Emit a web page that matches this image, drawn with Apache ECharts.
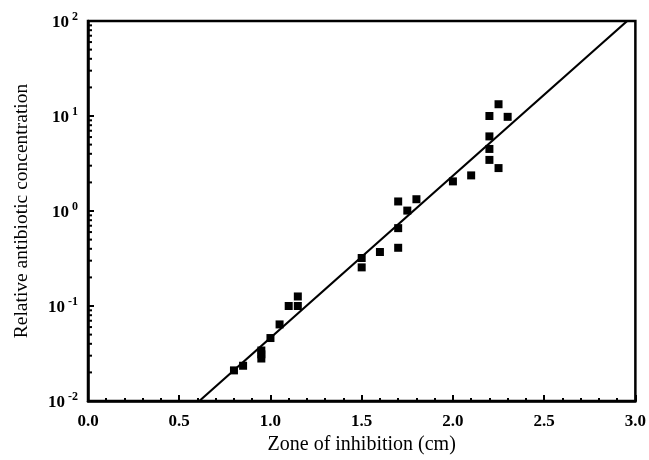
<!DOCTYPE html>
<html>
<head>
<meta charset="utf-8">
<script src="https://cdn.jsdelivr.net/npm/echarts@6/dist/echarts.min.js"></script>
<style>
  html, body { margin: 0; padding: 0; background: #fff; }
  #chart { width: 649px; height: 460px; }
</style>
</head>
<body>
<div id="chart"></div>
<script>
'use strict'
// measured points: zone of inhibition (cm) vs relative concentration
var zoneCm = [0.80, 0.85, 0.95, 0.95, 0.95, 1.00, 1.05, 1.10, 1.15, 1.15,
              1.50, 1.50, 1.60, 1.70, 1.70, 1.70, 1.75, 1.80, 2.00, 2.10,
              2.20, 2.20, 2.20, 2.20, 2.25, 2.25, 2.30];
var concValues = [0.021, 0.0235, 0.028, 0.031, 0.034, 0.046, 0.064, 0.10, 0.10, 0.126,
                  0.32, 0.255, 0.37, 0.41, 0.66, 1.26, 1.01, 1.33, 2.05, 2.37,
                  10.0, 6.1, 4.5, 3.45, 13.3, 2.83, 9.8];
// fitted line endpoints
var fitX = [0.61, 2.955];
var fitY = [0.01, 100];
// minor tick positions on the log axis (2..9 in each decade)
var decades = [0.01, 0.1, 1, 10];
var minorMult = [2, 3, 4, 5, 6, 7, 8, 9];

var serif = '"Liberation Serif", "DejaVu Serif", serif';

function pairs(xs, ys) {
    var out = [];
    for (var i = 0; i < xs.length; i++) {
        out.push([xs[i], ys[i]]);
    }
    return out;
}

var minorTicks = [];
decades.forEach(function (d) {
    minorMult.forEach(function (m) {
        minorTicks.push([0, d * m]);
    });
});

var chart = echarts.init(document.getElementById('chart'));
var option = {
    backgroundColor: '#fff',
    animation: false,
    grid: {
        left: 88, right: 12, top: 21, bottom: 56,
        show: true, borderColor: '#000', borderWidth: 2.5
    },
    xAxis: {
        type: 'value',
        min: 0, max: 3, interval: 0.5,
        name: 'Zone of inhibition (cm)',
        nameLocation: 'middle',
        nameGap: 34,
        nameTextStyle: { fontFamily: serif, fontSize: 20, color: '#000' },
        axisLine: { lineStyle: { color: '#000', width: 2.5 } },
        axisTick: { inside: true, length: 6, lineStyle: { color: '#000', width: 2 } },
        minorTick: { show: true, splitNumber: 5, length: 3, lineStyle: { color: '#000', width: 2 } },
        splitLine: { show: false },
        axisLabel: {
            fontFamily: serif, fontSize: 17, fontWeight: 'bold', color: '#000', margin: 12,
            formatter: function (v) { return v.toFixed(1); }
        }
    },
    yAxis: {
        type: 'log',
        logBase: 10,
        min: 0.01, max: 100,
        name: 'Relative antibiotic concentration',
        nameLocation: 'middle',
        nameGap: 56,
        nameTextStyle: { fontFamily: serif, fontSize: 19.5, color: '#000' },
        axisLine: { lineStyle: { color: '#000', width: 2.5 } },
        axisTick: { inside: true, length: 6, lineStyle: { color: '#000', width: 2 } },
        splitLine: { show: false },
        axisLabel: {
            color: '#000', margin: 10,
            formatter: function (v) {
                var e = Math.round(Math.log10(v));
                return '{b|10}{s|' + (e < 0 ? '-' + (-e) : e) + '}';
            },
            rich: {
                b: { fontFamily: serif, fontSize: 17, fontWeight: 'bold', color: '#000', padding: [4, 0, 0, 0] },
                s: { fontFamily: serif, fontSize: 12, fontWeight: 'bold', color: '#000',
                     verticalAlign: 'bottom', padding: [0, 0, 9, 3] }
            }
        }
    },
    series: [
        {
            type: 'custom',
            silent: true,
            data: minorTicks,
            renderItem: function (params, api) {
                var p = api.coord([api.value(0), api.value(1)]);
                return {
                    type: 'line',
                    shape: { x1: p[0], y1: p[1], x2: p[0] + 4, y2: p[1] },
                    style: { stroke: '#000', lineWidth: 2 }
                };
            },
            z: 3
        },
        {
            type: 'line',
            data: pairs(fitX, fitY),
            symbol: 'none',
            lineStyle: { color: '#000', width: 2.2 },
            silent: true
        },
        {
            type: 'scatter',
            data: pairs(zoneCm, concValues),
            symbol: 'rect',
            symbolSize: 8,
            itemStyle: { color: '#000', opacity: 1 }
        }
    ]
};
chart.setOption(option);
window.onresize = chart.resize;
</script>
</body>
</html>
